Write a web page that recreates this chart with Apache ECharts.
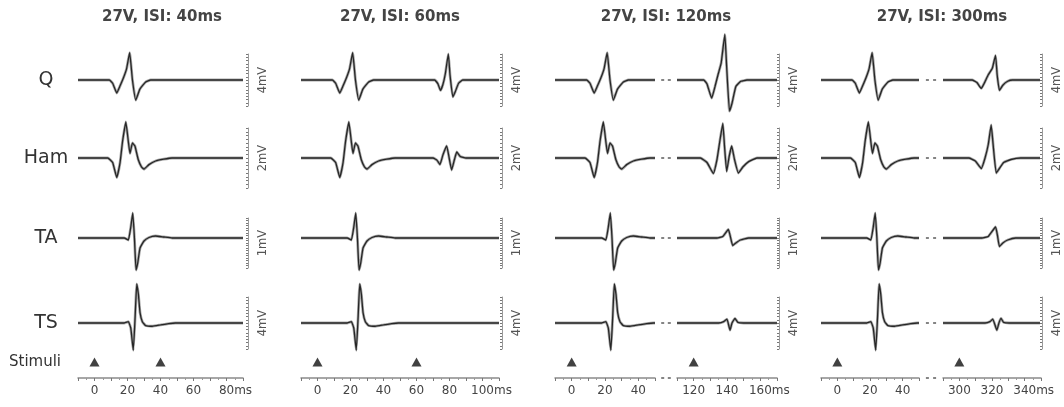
<!DOCTYPE html>
<html><head><meta charset="utf-8">
<script src="https://cdn.jsdelivr.net/npm/echarts@6/dist/echarts.min.js"></script>
<style>html,body{margin:0;padding:0;background:#fff}#c{width:1064px;height:407px}</style>
</head><body><div id="c"></div>
<script>
// ---------------- DATA ----------------
const panelTitles = ['27V, ISI: 40ms', '27V, ISI: 60ms', '27V, ISI: 120ms', '27V, ISI: 300ms'];
const isiValues = [40, 60, 120, 300];
const muscles = ['Q', 'Ham', 'TA', 'TS'];
const scaleLabels = ['4mV', '2mV', '1mV', '4mV'];
// visible time windows (ms) of each panel; broken panels have two windows
const segmentRanges = [[[-10, 90]], [[-10, 110]], [[-10, 50], [110, 170]], [[-10, 50], [290, 350]]];
const tickLabels = [[[0, 20, 40, 60, 80]], [[0, 20, 40, 60, 80, 100]], [[0, 20, 40], [120, 140, 160]], [[0, 20, 40], [300, 320, 340]]];

// response to first stimulus [ms, mV]
const firstQ = [[9,0],[11,-0.25],[13.5,-1.0],[15.5,-0.45],[17.5,0.15],[19.5,0.9],[21.3,2.1],[23,0],[25,-1.55],[27.5,-0.7],[31,-0.15],[34,0]];
const firstHam = [[8,0],[11,-0.15],[13.5,-0.65],[15.5,-0.15],[17,0.55],[19,1.2],[20.5,0.55],[21.5,0.15],[23,0.5],[24.5,0.4],[26.5,-0.05],[28.5,-0.3],[30,-0.37],[33,-0.22],[37,-0.1],[42,-0.04],[47,0]];
const firstTA = [[18,0],[20.5,-0.04],[22,0.22],[23.2,0.5],[24.2,0.0],[25.2,-0.64],[26.2,-0.5],[27.6,-0.2],[30,-0.06],[33,0.01],[37,0.04],[42,0.02],[47,0]];
const firstTS = [[18,0],[20.5,0.1],[22,-0.4],[23.5,-2.1],[24.6,0.4],[25.6,3.0],[26.6,2.2],[27.6,0.8],[29,0.1],[31,-0.2],[35,-0.25],[40,-0.15],[45,-0.05],[49,0]];

// response to second stimulus [ms, mV]
const secondQ60 = [[71,0],[73,-0.3],[74.5,-0.8],[76,-0.35],[77.5,0.5],[79.3,2.0],[80.3,0.4],[82,-1.3],[83.5,-0.9],[85.5,-0.25],[88,0]];
const secondHam60 = [[70,0],[72.5,-0.08],[74.2,-0.22],[76,0.1],[78.3,0.4],[79.8,0.0],[81.3,-0.4],[83,-0.05],[84.4,0.2],[86.5,0.05],[90,0]];
const secondQ120 = [[126,0],[128,-0.3],[130.8,-1.4],[132.8,-0.5],[134.8,0.5],[136.5,1.3],[138.7,3.5],[139.8,1.0],[141.5,-2.4],[143,-1.8],[145.3,-0.5],[148.3,-0.1],[152,0]];
const secondHam120 = [[124,0],[128,-0.15],[131.8,-0.52],[134,-0.05],[135.8,0.6],[137.5,1.15],[138.5,0.4],[139.8,-0.45],[141.3,0.05],[142.8,0.4],[144.5,-0.05],[146.8,-0.5],[149.5,-0.3],[153,-0.12],[158,0]];
const secondTA120 = [[134,0],[137.5,0.03],[140.8,0.17],[142,0.03],[143.4,-0.15],[145.3,-0.1],[148,-0.04],[153,0]];
const secondTS120 = [[135,0],[138,0.1],[140,0.3],[141.8,-0.55],[143,0.0],[144.8,0.35],[146.5,0.05],[150,0]];
const secondQ300 = [[308,0],[311,-0.2],[313.7,-0.65],[315.7,-0.2],[318,0.4],[320.5,0.9],[322.5,1.9],[323.5,0.4],[324.9,-0.8],[327,-0.4],[330,-0.1],[333,0]];
const secondHam300 = [[306,0],[310,-0.1],[313.7,-0.35],[316,0.0],[318,0.45],[319.8,1.1],[321,0.45],[322.9,-0.5],[324.5,-0.38],[327.5,-0.15],[332,-0.05],[338,0]];
const secondTA300 = [[314,0],[318,0.03],[322.5,0.22],[323.7,0.05],[324.9,-0.17],[327,-0.1],[330,-0.04],[335,0]];
const secondTS300 = [[316,0],[319,0.1],[320.8,0.3],[323.3,-0.55],[324.6,0.0],[325.9,0.35],[327.5,0.05],[331,0]];

const firstResponses = [firstQ, firstHam, firstTA, firstTS];
const secondResponses = [
  [[], secondQ60, secondQ120, secondQ300],
  [[], secondHam60, secondHam120, secondHam300],
  [[], [], secondTA120, secondTA300],
  [[], [], secondTS120, secondTS300]
];

// ---------------- LAYOUT ----------------
const FONT = 'DejaVu Sans';
const panelLayout = [
  { segs: [{ left: 78, width: 165 }], barOffset: 5 },
  { segs: [{ left: 301, width: 198 }], barOffset: 3 },
  { segs: [{ left: 555, width: 100 }, { left: 677, width: 100 }], barOffset: 2 },
  { segs: [{ left: 821, width: 98 }, { left: 943, width: 98 }], barOffset: 2 }
];
const rowLayout = [
  { top: 54, height: 52, min: -2, max: 2, step: 0.25 },
  { top: 128, height: 60, min: -1, max: 1, step: 0.125 },
  { top: 218, height: 50, min: -0.6, max: 0.4, step: 0.05 },
  { top: 297, height: 52, min: -2, max: 2, step: 0.25 }
];
const titleCenters = [162, 400, 666, 942];
const axisGridTop = 352, axisGridHeight = 26;

const grids = [], xAxes = [], yAxes = [], series = [];
const traceGridIdx = []; // [p][s][r]
const axisGridIdx = [];  // [p][s]

panelLayout.forEach((pl, p) => {
  traceGridIdx.push([]); axisGridIdx.push([]);
  pl.segs.forEach((sg, s) => {
    const [a, b] = segmentRanges[p][s];
    const isLastSeg = s === pl.segs.length - 1;
    traceGridIdx[p].push([]);
    rowLayout.forEach((rl, r) => {
      const gi = grids.length;
      traceGridIdx[p][s].push(gi);
      grids.push({ left: sg.left, width: sg.width, top: rl.top, height: rl.height });
      xAxes.push({ type: 'value', gridIndex: gi, min: a, max: b, show: false });
      if (isLastSeg) {
        yAxes.push({
          type: 'value', gridIndex: gi, min: rl.min, max: rl.max, interval: rl.step,
          position: 'right', offset: pl.barOffset,
          axisLine: { show: true, onZero: false, lineStyle: { color: '#9a9a9a', width: 1 } },
          axisTick: { show: true, inside: true, length: 2, lineStyle: { color: '#777', width: 1 } },
          axisLabel: { show: false }, splitLine: { show: false },
          name: scaleLabels[r], nameLocation: 'middle', nameRotate: 90, nameGap: 9,
          nameTextStyle: { fontFamily: FONT, fontSize: 11.5, color: '#555' }
        });
      } else {
        yAxes.push({ type: 'value', gridIndex: gi, min: rl.min, max: rl.max, show: false });
      }
      const pts = firstResponses[r].concat(secondResponses[r][p]);
      const data = [[a, 0]].concat(pts.filter(q => q[0] > a && q[0] < b), [[b, 0]]);
      const common = { type: 'line', xAxisIndex: gi, yAxisIndex: gi, data, showSymbol: false, clip: false, silent: true, smooth: 0.12, animation: false };
      series.push(Object.assign({}, common, { lineStyle: { color: '#a8a8a8', width: 2.8 }, z: 1 }));
      series.push(Object.assign({}, common, { lineStyle: { color: '#262626', width: 1.3 }, z: 2 }));
    });

    // time axis + stimuli
    const gi = grids.length;
    axisGridIdx[p].push(gi);
    grids.push({ left: sg.left, width: sg.width, top: axisGridTop, height: axisGridHeight });
    const labels = tickLabels[p][s];
    const lastLabel = labels[labels.length - 1];
    xAxes.push({
      type: 'value', gridIndex: gi, min: a, max: b, interval: 10, position: 'bottom',
      axisLine: { show: true, onZero: false, lineStyle: { color: '#8a8a8a', width: 1.5 } },
      axisTick: { show: true, length: 3, lineStyle: { color: '#777' } },
      minorTick: { show: true, splitNumber: 2, length: 2, lineStyle: { color: '#999' } },
      splitLine: { show: false },
      axisLabel: {
        margin: 7, color: '#444', fontFamily: FONT, fontSize: 12,
        formatter: v => {
          if (!labels.includes(v)) return '';
          if (isLastSeg && v === lastLabel) return '{n|' + v + '}{u|ms}';
          return String(v);
        },
        rich: {
          n: { fontFamily: FONT, fontSize: 12, color: '#444', padding: [0, 0, 0, 18] },
          u: { fontFamily: FONT, fontSize: 12, color: '#444' }
        }
      }
    });
    yAxes.push({ type: 'value', gridIndex: gi, min: 0, max: 1, show: false });
    const stim = [0, isiValues[p]].filter(t => t >= a && t <= b).map(t => [t, 0.62]);
    series.push({
      type: 'scatter', xAxisIndex: gi, yAxisIndex: gi, data: stim, symbol: 'triangle',
      symbolSize: [10, 9], itemStyle: { color: '#111' }, silent: true, animation: false
    });
  });
});

const chart = echarts.init(document.getElementById('c'), null, { renderer: 'canvas' });
chart.setOption({
  animation: false,
  backgroundColor: '#fff',
  grid: grids, xAxis: xAxes, yAxis: yAxes, series
});

// ---------------- TEXT / DECORATION ----------------
const graphics = [];
panelTitles.forEach((t, p) => graphics.push({
  type: 'text', x: titleCenters[p], y: 17,
  style: { text: t, fill: '#444', fontFamily: FONT, fontSize: 15, fontWeight: 'bold', align: 'center', verticalAlign: 'middle' }
}));
muscles.forEach((m, r) => {
  const y = chart.convertToPixel({ gridIndex: traceGridIdx[0][0][r] }, [0, 0])[1];
  graphics.push({ type: 'text', x: 46, y, style: { text: m, fill: '#333', fontFamily: FONT, fontSize: 19, align: 'center', verticalAlign: 'middle' } });
});
{
  const y = chart.convertToPixel({ gridIndex: axisGridIdx[0][0] }, [0, 0.62])[1];
  graphics.push({ type: 'text', x: 9, y, style: { text: 'Stimuli', fill: '#333', fontFamily: FONT, fontSize: 15, align: 'left', verticalAlign: 'middle' } });
}
// break marks between the two windows of panels 3 and 4
[2, 3].forEach(p => {
  const bL = segmentRanges[p][0][1];
  const aR = segmentRanges[p][1][0];
  const pairs = rowLayout.map((rl, r) => [traceGridIdx[p][0][r], traceGridIdx[p][1][r]]);
  pairs.push([axisGridIdx[p][0], axisGridIdx[p][1]]);
  pairs.forEach(([gL, gR], k) => {
    const pL = chart.convertToPixel({ gridIndex: gL }, [bL, 0]);
    const pR = chart.convertToPixel({ gridIndex: gR }, [aR, 0]);
    const y = k < rowLayout.length ? pL[1] : axisGridTop + axisGridHeight;
    [0.35, 0.65].forEach(f => {
      const x = pL[0] + (pR[0] - pL[0]) * f;
      graphics.push({ type: 'rect', shape: { x: x - 1.5, y: y - 0.8, width: 3, height: 1.6 }, style: { fill: '#666' } });
    });
  });
});
chart.setOption({ graphic: graphics });
</script>
</body></html>
